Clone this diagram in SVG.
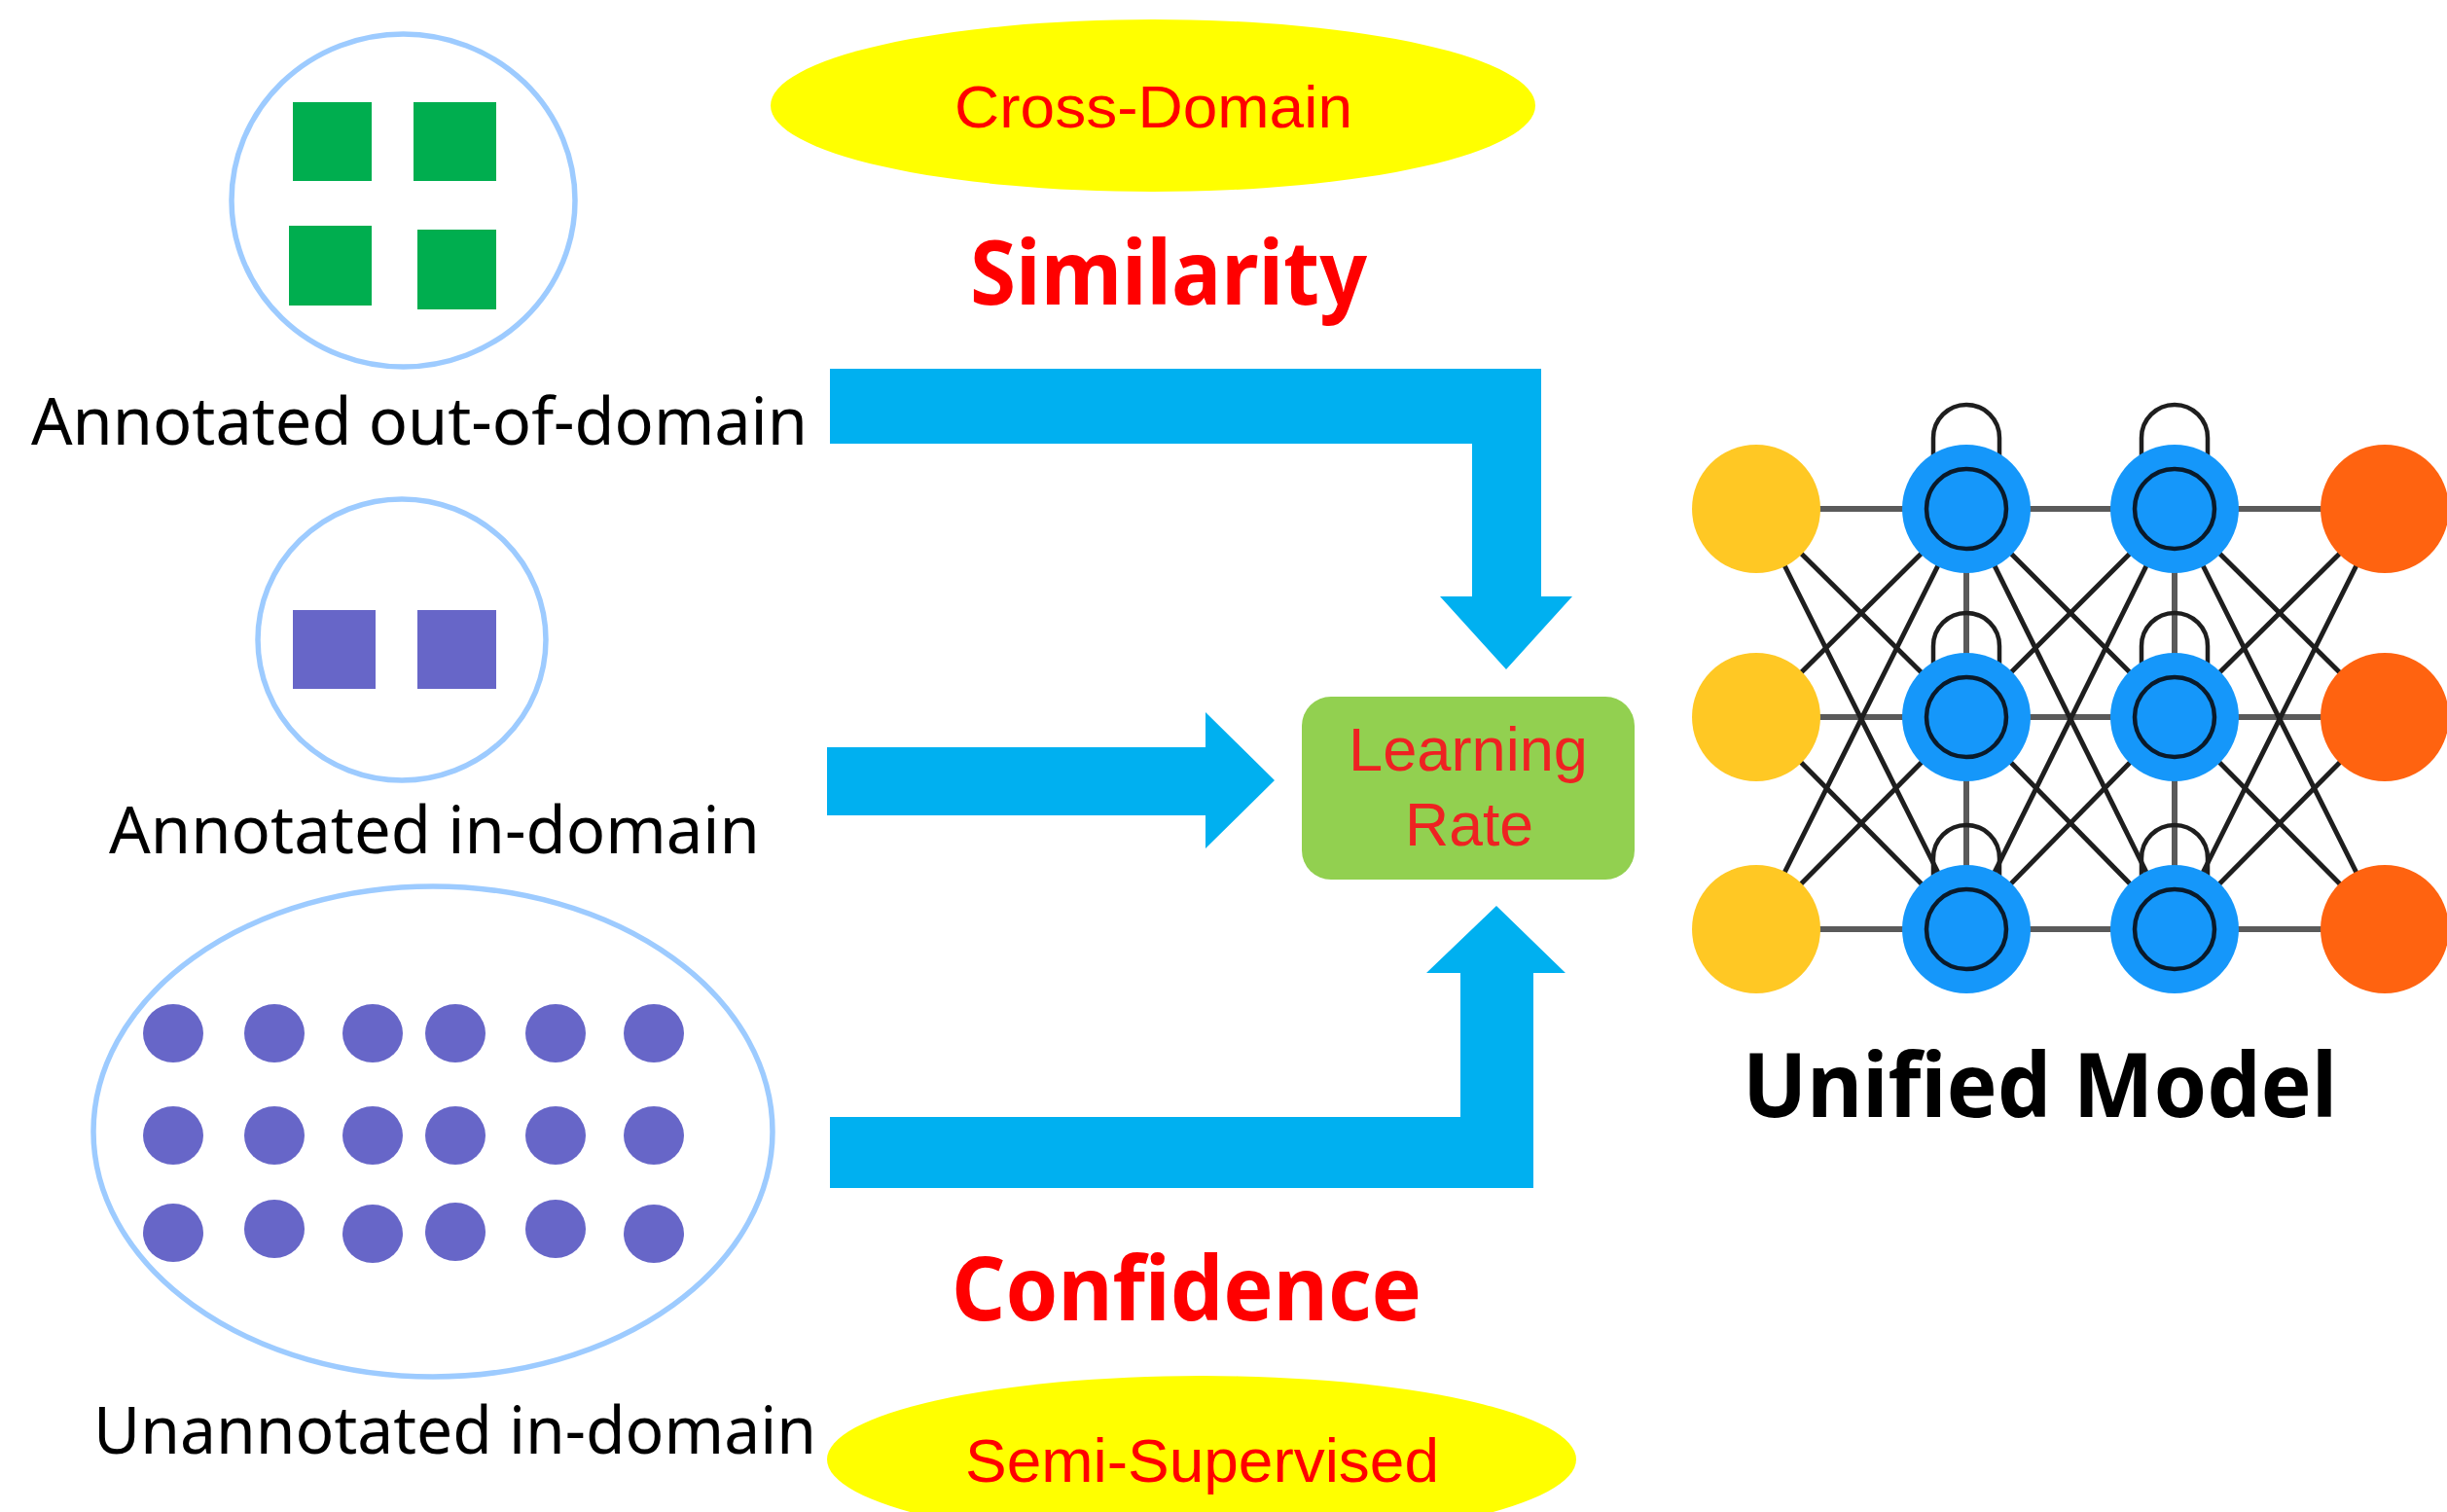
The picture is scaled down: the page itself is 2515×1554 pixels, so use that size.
<svg xmlns="http://www.w3.org/2000/svg" width="2515" height="1554" viewBox="0 0 2515 1554">
<style>
.set{fill:none;stroke:#9DCBFF;stroke-width:5.5}
.lbl{font-family:"Noto Sans","Open Sans",sans-serif;font-size:68px;fill:#000}
.tag{font-family:"Liberation Sans",Arial,sans-serif;fill:#FF0000}
.big{font-family:"Noto Sans","Open Sans",sans-serif;font-weight:bold;font-size:92px;fill:#FF0000}
.arrow{fill:#00B0F0}
.dot{fill:#6766C8}
.sq{fill:#00AE4F}
.psq{fill:#6766C8}
.hl{stroke:#5A5A5A;stroke-width:6;fill:none}
.dl{stroke:#1E1E1E;stroke-width:5;fill:none}
.loop{stroke:#1E1E1E;stroke-width:4.5;fill:none}
.in{fill:#FFC824}
.out{fill:#FF6310}
.hid{fill:#1597FA}
.hidin{fill:#1597FA;stroke:#0A1A2A;stroke-width:4.5}
</style>

<g id="out-of-domain">
<ellipse class="set" cx="414.5" cy="206" rx="176.5" ry="171"/>
<rect class="sq" x="301" y="105" width="81" height="81"/>
<rect class="sq" x="425" y="105" width="85" height="81"/>
<rect class="sq" x="297" y="232" width="85" height="82"/>
<rect class="sq" x="429" y="236" width="81" height="82"/>
<text class="lbl" x="32" y="457" textLength="798" lengthAdjust="spacingAndGlyphs">Annotated out-of-domain</text>
</g>

<g id="in-domain">
<ellipse class="set" cx="413" cy="657.5" rx="148" ry="144.5"/>
<rect class="psq" x="301" y="627" width="85" height="81"/>
<rect class="psq" x="429" y="627" width="81" height="81"/>
<text class="lbl" x="112" y="877" textLength="669" lengthAdjust="spacingAndGlyphs">Annotated in-domain</text>
</g>

<g id="unannotated">
<ellipse class="set" cx="445" cy="1163" rx="349" ry="252"/>
<g>
<ellipse class="dot" cx="178" cy="1062" rx="31" ry="30"/>
<ellipse class="dot" cx="282" cy="1062" rx="31" ry="30"/>
<ellipse class="dot" cx="383" cy="1062" rx="31" ry="30"/>
<ellipse class="dot" cx="468" cy="1062" rx="31" ry="30"/>
<ellipse class="dot" cx="571" cy="1062" rx="31" ry="30"/>
<ellipse class="dot" cx="672" cy="1062" rx="31" ry="30"/>
<ellipse class="dot" cx="178" cy="1167" rx="31" ry="30"/>
<ellipse class="dot" cx="282" cy="1167" rx="31" ry="30"/>
<ellipse class="dot" cx="383" cy="1167" rx="31" ry="30"/>
<ellipse class="dot" cx="468" cy="1167" rx="31" ry="30"/>
<ellipse class="dot" cx="571" cy="1167" rx="31" ry="30"/>
<ellipse class="dot" cx="672" cy="1167" rx="31" ry="30"/>
<ellipse class="dot" cx="178" cy="1267" rx="31" ry="30"/>
<ellipse class="dot" cx="282" cy="1263" rx="31" ry="30"/>
<ellipse class="dot" cx="383" cy="1268" rx="31" ry="30"/>
<ellipse class="dot" cx="468" cy="1266" rx="31" ry="30"/>
<ellipse class="dot" cx="571" cy="1263" rx="31" ry="30"/>
<ellipse class="dot" cx="672" cy="1268" rx="31" ry="30"/>
</g>
<text class="lbl" x="96" y="1494" textLength="743" lengthAdjust="spacingAndGlyphs">Unannotated in-domain</text>
</g>

<g id="cross-domain">
<ellipse cx="1185" cy="108.5" rx="393" ry="88.5" fill="#FFFF00"/>
<text class="tag" x="981" y="131" font-size="61" textLength="409" lengthAdjust="spacingAndGlyphs">Cross-Domain</text>
</g>

<g id="similarity">
<text class="big" x="997" y="313" textLength="408" lengthAdjust="spacingAndGlyphs">Similarity</text>
</g>

<g id="confidence">
<text class="big" x="978" y="1357" font-size="91" textLength="483" lengthAdjust="spacingAndGlyphs">Confidence</text>
</g>

<g id="semi-supervised">
<ellipse cx="1235" cy="1500" rx="385" ry="86" fill="#FFFF00"/>
<text class="tag" x="992" y="1523" font-size="63" textLength="487" lengthAdjust="spacingAndGlyphs">Semi-Supervised</text>
</g>

<g id="connectors">
<polygon class="arrow" points="853,379 1584,379 1584,613 1616,613 1548,688 1480,613 1513,613 1513,456 853,456"/>
<polygon class="arrow" points="850,768 1239,768 1239,732 1310,802 1239,872 1239,838 850,838"/>
<polygon class="arrow" points="853,1221 1576,1221 1576,1000 1609,1000 1538,931 1466,1000 1501,1000 1501,1148 853,1148"/>
</g>

<g id="learning-rate">
<rect x="1338" y="716" width="342" height="188" rx="30" ry="30" fill="#92D050"/>
<text class="tag" x="1386" y="792" font-size="63" style="fill:#EE2222" textLength="246" lengthAdjust="spacingAndGlyphs">Learning</text>
<text class="tag" x="1444" y="869" font-size="63" style="fill:#EE2222" textLength="132" lengthAdjust="spacingAndGlyphs">Rate</text>
</g>

<g id="unified-model">
<g id="nn-edges">
<line class="hl" x1="1805" y1="523" x2="2021" y2="523"/>
<line class="hl" x1="1805" y1="737" x2="2021" y2="737"/>
<line class="hl" x1="1805" y1="955" x2="2021" y2="955"/>
<line class="hl" x1="2021" y1="523" x2="2235" y2="523"/>
<line class="hl" x1="2021" y1="737" x2="2235" y2="737"/>
<line class="hl" x1="2021" y1="955" x2="2235" y2="955"/>
<line class="hl" x1="2235" y1="523" x2="2451" y2="523"/>
<line class="hl" x1="2235" y1="737" x2="2451" y2="737"/>
<line class="hl" x1="2235" y1="955" x2="2451" y2="955"/>
<line class="hl" x1="2021" y1="523" x2="2021" y2="955"/>
<line class="hl" x1="2235" y1="523" x2="2235" y2="955"/>
<line class="dl" x1="1805" y1="523" x2="2021" y2="737"/>
<line class="dl" x1="1805" y1="523" x2="2021" y2="955"/>
<line class="dl" x1="1805" y1="737" x2="2021" y2="523"/>
<line class="dl" x1="1805" y1="737" x2="2021" y2="955"/>
<line class="dl" x1="1805" y1="955" x2="2021" y2="523"/>
<line class="dl" x1="1805" y1="955" x2="2021" y2="737"/>
<line class="dl" x1="2021" y1="523" x2="2235" y2="737"/>
<line class="dl" x1="2021" y1="523" x2="2235" y2="955"/>
<line class="dl" x1="2021" y1="737" x2="2235" y2="523"/>
<line class="dl" x1="2021" y1="737" x2="2235" y2="955"/>
<line class="dl" x1="2021" y1="955" x2="2235" y2="523"/>
<line class="dl" x1="2021" y1="955" x2="2235" y2="737"/>
<line class="dl" x1="2235" y1="523" x2="2451" y2="737"/>
<line class="dl" x1="2235" y1="523" x2="2451" y2="955"/>
<line class="dl" x1="2235" y1="737" x2="2451" y2="523"/>
<line class="dl" x1="2235" y1="737" x2="2451" y2="955"/>
<line class="dl" x1="2235" y1="955" x2="2451" y2="523"/>
<line class="dl" x1="2235" y1="955" x2="2451" y2="737"/>
</g>
<g id="nn-loops">
<path class="loop" d="M1987,470 L1987,450 A34,34 0 0 1 2055,450 L2055,470"/>
<path class="loop" d="M2201,470 L2201,450 A34,34 0 0 1 2269,450 L2269,470"/>
<path class="loop" d="M1987,684 L1987,664 A34,34 0 0 1 2055,664 L2055,684"/>
<path class="loop" d="M2201,684 L2201,664 A34,34 0 0 1 2269,664 L2269,684"/>
<path class="loop" d="M1987,902 L1987,882 A34,34 0 0 1 2055,882 L2055,902"/>
<path class="loop" d="M2201,902 L2201,882 A34,34 0 0 1 2269,882 L2269,902"/>
</g>
<g id="nn-nodes">
<circle class="in" cx="1805" cy="523" r="66"/>
<circle class="in" cx="1805" cy="737" r="66"/>
<circle class="in" cx="1805" cy="955" r="66"/>
<circle class="hid" cx="2021" cy="523" r="66"/>
<circle class="hid" cx="2021" cy="737" r="66"/>
<circle class="hid" cx="2021" cy="955" r="66"/>
<circle class="hid" cx="2235" cy="523" r="66"/>
<circle class="hid" cx="2235" cy="737" r="66"/>
<circle class="hid" cx="2235" cy="955" r="66"/>
<circle class="hidin" cx="2021" cy="523" r="41"/>
<circle class="hidin" cx="2021" cy="737" r="41"/>
<circle class="hidin" cx="2021" cy="955" r="41"/>
<circle class="hidin" cx="2235" cy="523" r="41"/>
<circle class="hidin" cx="2235" cy="737" r="41"/>
<circle class="hidin" cx="2235" cy="955" r="41"/>
<circle class="out" cx="2451" cy="523" r="66"/>
<circle class="out" cx="2451" cy="737" r="66"/>
<circle class="out" cx="2451" cy="955" r="66"/>
</g>
<text x="1791" y="1148" font-family="'Noto Sans','Open Sans',sans-serif" font-weight="bold" font-size="91" fill="#000" textLength="611" lengthAdjust="spacingAndGlyphs">Unified Model</text>
</g>
</svg>
